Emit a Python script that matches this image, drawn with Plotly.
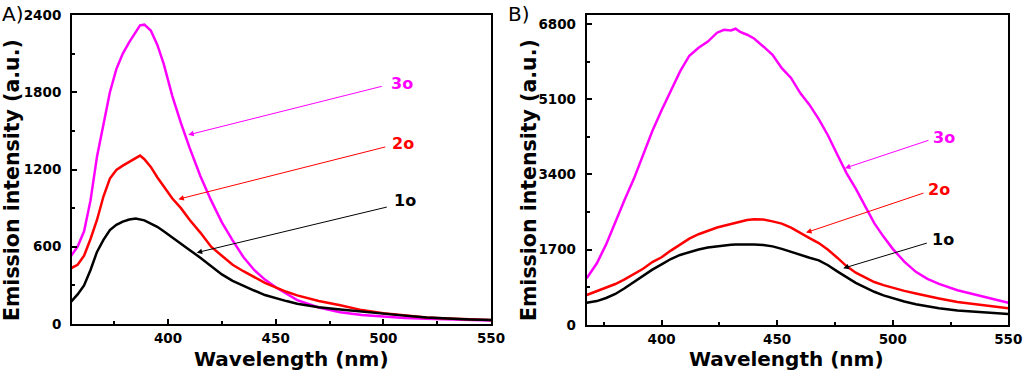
import plotly.graph_objects as go

# ---------------- Panel A data ----------------
wl_a = [355, 358, 361, 364, 367, 370, 373, 376, 379, 382, 385, 387, 389, 392, 395, 398,
        402, 406, 410, 415, 420, 425, 430, 435, 440, 445, 450, 455, 460, 470, 480, 490,
        500, 510, 520, 530, 540, 550]
a_3o = [530, 600, 720, 960, 1300, 1560, 1800, 1980, 2100, 2190, 2270, 2320, 2325, 2280, 2170, 2020,
        1770, 1560, 1370, 1150, 960, 790, 650, 520, 420, 345, 285, 235, 185, 128, 92, 70,
        56, 46, 40, 35, 30, 28]
a_2o = [433, 460, 530, 660, 808, 990, 1130, 1197, 1230, 1260, 1290, 1308, 1280, 1220, 1140, 1070,
        975, 900, 810, 710, 600, 530, 460, 410, 365, 320, 285, 250, 222, 178, 146, 108,
        83, 65, 50, 42, 36, 31]
a_1o = [173, 230, 300, 420, 560, 653, 730, 770, 795, 812, 820, 815, 805, 780, 755, 720,
        670, 620, 575, 515, 450, 385, 335, 295, 260, 225, 200, 178, 158, 130, 112, 95,
        80, 65, 50, 40, 35, 31]

# ---------------- Panel B data ----------------
wl_b = [367.6, 372, 376, 380, 384, 388, 392, 396, 400, 404, 408, 412, 416, 420, 424, 427, 430, 432,
        434, 437, 440, 444, 448, 452, 456, 460, 464, 468, 472, 476, 480, 484, 488, 492, 496, 500,
        505, 510, 515, 520, 528, 535, 542, 550]
b_3o = [1055, 1394, 1820, 2330, 2830, 3300, 3820, 4380, 4850, 5280, 5725, 6080, 6260, 6400, 6600, 6667, 6650, 6690,
        6620, 6554, 6470, 6290, 6100, 5800, 5580, 5236, 4970, 4650, 4280, 3850, 3430, 3080, 2680, 2300, 1996, 1720,
        1430, 1200, 1040, 930, 785, 690, 600, 504]
b_2o = [678, 760, 840, 925, 1030, 1150, 1270, 1420, 1530, 1680, 1820, 1950, 2050, 2130, 2200, 2240, 2280, 2310,
        2330, 2370, 2390, 2380, 2340, 2290, 2200, 2072, 1960, 1850, 1700, 1520, 1330, 1180, 1070, 970, 900, 840,
        770, 710, 650, 600, 520, 470, 420, 377]
b_1o = [504, 540, 610, 700, 830, 970, 1110, 1250, 1370, 1490, 1582, 1650, 1705, 1750, 1780, 1800, 1810, 1815,
        1820, 1823, 1820, 1808, 1775, 1720, 1650, 1582, 1520, 1460, 1350, 1210, 1070, 950, 850, 750, 670, 600,
        530, 470, 420, 380, 330, 300, 270, 249]

series_names = ["3o", "2o", "1o"]
colors = ["#FF00FF", "#FF0000", "#000000"]

# label / arrow positions (data units): (tail_x, tail_y, head_x, head_y, text_x, text_y)
arrows_a = [(500, 1849, 409.4, 1469, 502.5, 1870),
            (501.6, 1378, 404.8, 969, 503.3, 1399),
            (502.3, 911, 413.3, 554, 504.0, 956)]
arrows_b = [(516.1, 4181, 479.3, 3541, 516.5, 4233),
            (513.9, 2990, 462.5, 2086, 514.3, 3067),
            (515.4, 1860, 478.6, 1281, 516.0, 1921)]

FONT = "DejaVu Sans, Liberation Sans, Arial, sans-serif"

fig = go.Figure()
for ys, name, c in zip([a_3o, a_2o, a_1o], series_names, colors):
    fig.add_trace(go.Scatter(x=wl_a, y=ys, mode="lines", name=name,
                             line=dict(color=c, width=2.5),
                             xaxis="x", yaxis="y", showlegend=False))
for ys, name, c in zip([b_3o, b_2o, b_1o], series_names, colors):
    fig.add_trace(go.Scatter(x=wl_b, y=ys, mode="lines", name=name,
                             line=dict(color=c, width=2.5),
                             xaxis="x2", yaxis="y2", showlegend=False))

tickfont = dict(family=FONT, size=13.5, color="black", weight="bold")
common_x = dict(showline=True, linecolor="black", linewidth=2, mirror=True,
                ticks="inside", ticklen=5, tickwidth=1.5, tickcolor="black", automargin=False,
                showgrid=False, zeroline=False, tickfont=tickfont, ticklabelstandoff=1)
common_y = dict(showline=True, linecolor="black", linewidth=2, mirror=True,
                ticks="inside", ticklen=5, tickwidth=1.5, tickcolor="black", automargin=False,
                showgrid=False, zeroline=False, tickfont=tickfont, ticklabelstandoff=6)
minor_style = dict(ticks="inside", ticklen=3, tickwidth=1.5, tickcolor="black")

fig.update_layout(
    template="none",
    width=1024, height=373, autosize=False,
    margin=dict(l=0, r=0, t=0, b=0, pad=0, autoexpand=False),
    paper_bgcolor="white", plot_bgcolor="white",
    xaxis=dict(domain=[72/1024, 491/1024], range=[355.4, 550], anchor="y",
               tickvals=[400, 450, 500, 550],
               minor=dict(tickvals=[375, 425, 475, 525], **minor_style),
               **common_x),
    yaxis=dict(domain=[(373-324)/373, (373-15)/373], range=[0, 2400], anchor="x",
               tickvals=[0, 600, 1200, 1800, 2400],
               minor=dict(tickvals=[300, 900, 1500, 2100], **minor_style),
               **common_y),
    xaxis2=dict(domain=[586.7/1024, 1008.3/1024], range=[367.6, 550], anchor="y2",
                tickvals=[400, 450, 500, 550],
                minor=dict(tickvals=[375, 425, 475, 525], **minor_style),
                **common_x),
    yaxis2=dict(domain=[(373-325)/373, (373-15)/373], range=[0, 7000], anchor="x2",
                tickvals=[0, 1700, 3400, 5100, 6800],
                minor=dict(tickvals=[850, 2550, 4250, 5950], **minor_style),
                **common_y),
)

annots = []
for (xr, yr, arr) in [("x", "y", arrows_a), ("x2", "y2", arrows_b)]:
    for (tx, ty, hx, hy, lx, ly), name, c in zip(arr, series_names, colors):
        annots.append(dict(x=hx, y=hy, ax=tx, ay=ty, xref=xr, yref=yr, axref=xr, ayref=yr,
                           text=" ", font=dict(size=1), showarrow=True, arrowhead=2,
                           arrowsize=1.1, arrowwidth=1, arrowcolor=c, standoff=0, startstandoff=0))
        annots.append(dict(x=lx, y=ly, xref=xr, yref=yr, text=name,
                           showarrow=False, xanchor="left", yanchor="middle",
                           font=dict(family=FONT, size=16, color=c, weight="bold")))

xt_font = dict(family=FONT, size=20, color="black", weight="bold")
yt_font = dict(family=FONT, size=20.5, color="black", weight="bold")
lab_font = dict(family=FONT, size=20, color="black")
annots += [
    dict(x=291/1024, y=(373-359)/373, xref="paper", yref="paper", text="Wavelength (nm)",
         showarrow=False, xanchor="center", yanchor="middle", font=xt_font),
    dict(x=786.7/1024, y=(373-359)/373, xref="paper", yref="paper", text="Wavelength (nm)",
         showarrow=False, xanchor="center", yanchor="middle", font=xt_font),
    dict(x=12/1024, y=(373-180)/373, xref="paper", yref="paper", text="Emission intensity (a.u.)",
         showarrow=False, textangle=-90, xanchor="center", yanchor="middle", font=yt_font),
    dict(x=529/1024, y=(373-180)/373, xref="paper", yref="paper", text="Emission intensity (a.u.)",
         showarrow=False, textangle=-90, xanchor="center", yanchor="middle", font=yt_font),
    dict(x=0, y=(373-14)/373, xref="paper", yref="paper", text="A)", showarrow=False,
         xanchor="left", yanchor="middle", font=lab_font),
    dict(x=506/1024, y=(373-14)/373, xref="paper", yref="paper", text="B)", showarrow=False,
         xanchor="left", yanchor="middle", font=lab_font),
]
fig.update_layout(annotations=annots)

fig.write_html("out.html",
               config={"displayModeBar": False, "responsive": False},
               post_script="document.body.style.margin='0px';document.body.style.padding='0px';"
                           "document.body.style.overflow='hidden';")
